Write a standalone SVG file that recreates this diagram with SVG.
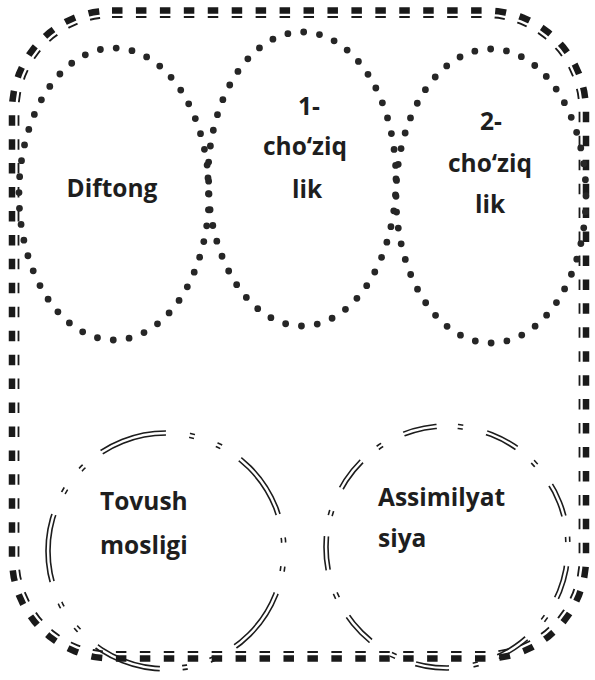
<svg xmlns="http://www.w3.org/2000/svg" width="595" height="680" viewBox="0 0 595 680">
<defs>
<style>
.dots{fill:none;stroke:#262626;stroke-width:6.8;stroke-linecap:round;stroke-dasharray:0 16;}
.lbl{font-family:"Open Sans","Liberation Sans",Arial,sans-serif;font-weight:700;font-size:24.5px;fill:#1e1e1e;}
.dbl{fill:none;stroke:#1c1c1c;stroke-width:1.6;}
.thick{fill:none;stroke:#1a1a1a;stroke-width:6.5;}
.thin{fill:none;stroke:#1a1a1a;stroke-width:1.8;}
.mk{fill:none;stroke:#fff;}
</style>
<mask id="frameMask" maskUnits="userSpaceOnUse" x="0" y="0" width="595" height="680">
<rect class="mk" x="15.5" y="14" width="567" height="641" rx="96.5" stroke-width="18" stroke-dasharray="10.5 13.44"/>
</mask>
<mask id="c1Mask" maskUnits="userSpaceOnUse" x="0" y="0" width="595" height="680">
<circle class="mk" cx="166" cy="551" r="118" stroke-width="10" stroke-dasharray="68 23.7 5.1 23.7 5.1 22.58" transform="rotate(21 166 551)"/>
</mask>
<mask id="c2Mask" maskUnits="userSpaceOnUse" x="0" y="0" width="595" height="680">
<circle class="mk" cx="447" cy="547" r="121" stroke-width="10" stroke-dasharray="33.8 21.1 5.3 24.27" transform="rotate(9 447 547)"/>
</mask>
</defs>
<rect width="595" height="680" fill="#fff"/>
<g id="frame" mask="url(#frameMask)">
<rect class="thick" x="12" y="10.5" width="574" height="648" rx="100"/>
<rect class="thin" x="18.5" y="17" width="561" height="635" rx="93.5"/>
</g>
<g id="diftong">
<ellipse class="dots" cx="114" cy="194" rx="95" ry="146"/>
<text class="lbl" x="112" y="197" text-anchor="middle">Diftong</text>
</g>
<g id="choziqlik-1">
<ellipse class="dots" cx="302" cy="179" rx="94" ry="147"/>
<text class="lbl" text-anchor="middle"><tspan x="309" y="115">1-</tspan><tspan x="305" y="155">cho‘ziq</tspan><tspan x="307" y="198">lik</tspan></text>
</g>
<g id="choziqlik-2">
<ellipse class="dots" cx="491" cy="196" rx="95" ry="147"/>
<text class="lbl" text-anchor="middle"><tspan x="491" y="130">2-</tspan><tspan x="490" y="172">cho‘ziq</tspan><tspan x="490" y="213">lik</tspan></text>
</g>
<g id="tovush-mosligi">
<g mask="url(#c1Mask)">
<circle class="dbl" cx="166" cy="551" r="116"/>
<circle class="dbl" cx="166" cy="551" r="120"/>
</g>
<text class="lbl" x="100" y="510">Tovush</text>
<text class="lbl" x="100" y="554">mosligi</text>
</g>
<g id="assimilyatsiya">
<g mask="url(#c2Mask)">
<circle class="dbl" cx="447" cy="547" r="119"/>
<circle class="dbl" cx="447" cy="547" r="123"/>
</g>
<text class="lbl" x="378" y="506">Assimilyat</text>
<text class="lbl" x="378" y="547">siya</text>
</g>
<g id="connectors"/>
</svg>
